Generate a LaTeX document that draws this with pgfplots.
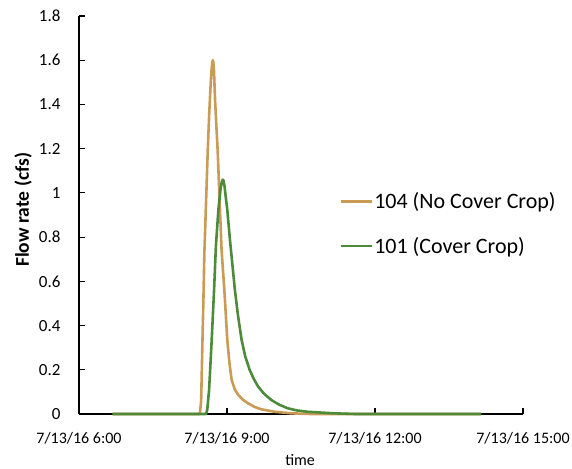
\documentclass[border=0pt]{standalone}
\usepackage{pgfplots}
\pgfplotsset{compat=1.18}
\usepackage{fontspec}
\setmainfont{Carlito}
\definecolor{nocc}{RGB}{201,155,84}
\definecolor{cc}{RGB}{77,139,58}
\begin{document}
\begin{tikzpicture}[x=1pt,y=1pt]
\useasboundingbox (0,0) rectangle (572,468);
\begin{axis}[
  at={(79pt,54pt)}, anchor=origin,
  scale only axis, width=444pt, height=398pt,
  xmin=6, xmax=15, ymin=0, ymax=1.8,
  axis x line=bottom, axis y line=left,
  axis line style={-, line width=1.3pt, black},
  tick align=inside,
  major tick length=6pt,
  tick style={line width=1.2pt, black},
  xtick={6,9,12,15},
  xticklabels={7/13/16 6:00, 7/13/16 9:00, 7/13/16 12:00, 7/13/16 15:00},
  ytick={0,0.2,...,1.8},
  /pgf/number format/fixed,
  /pgf/number format/assume math mode=true,
  tick label style={font=\fontsize{16}{18}\selectfont, black},
  yticklabel style={xshift=-15pt, font=\fontsize{17}{19}\selectfont},
  xticklabel style={yshift=-15pt},
  xlabel={time},
  xlabel style={at={(axis description cs:0.498,-0.1156)}, anchor=center, font=\fontsize{16}{18}\selectfont},
  ylabel={Flow rate (cfs)},
  ylabel style={at={(axis description cs:-0.126,0.513)}, anchor=center, font=\fontsize{19.5}{22}\selectfont\bfseries},
  clip=false,
  legend cell align=left,
  legend style={at={(rel axis cs:0.5856,0.478)}, anchor=west, draw=none, fill=none,
    font=\fontsize{22}{26}\selectfont, inner sep=0pt, row sep=24pt,
    nodes={inner sep=1.5pt}},
  legend image code/.code={\draw[#1] (0pt,0pt) -- (31pt,0pt);},
]
\addplot[nocc, line width=2.6pt, line join=round] coordinates {
(6.68,0) (8.45,0) (8.476,0.06) (8.503,0.335) (8.525,0.55) (8.543,0.742) (8.577,0.968)
(8.61,1.195) (8.640,1.36) (8.668,1.49) (8.69,1.565) (8.702,1.59) (8.712,1.6) (8.722,1.592)
(8.735,1.56) (8.758,1.42) (8.785,1.30) (8.81,1.195) (8.85,0.968) (8.89,0.742) (8.946,0.561)
(9.006,0.335) (9.05,0.23) (9.094,0.154) (9.16,0.11) (9.23,0.086) (9.33,0.063) (9.43,0.048)
(9.56,0.032) (9.70,0.021) (9.97,0.01) (10.3,0.003) (10.7,0) (14.15,0)
};
\addlegendentry{104 (No Cover Crop)}
\addplot[cc, line width=2.6pt, line join=round] coordinates {
(6.68,0) (8.577,0) (8.60,0.02) (8.637,0.109) (8.69,0.335) (8.738,0.561) (8.775,0.76)
(8.825,0.923) (8.87,1.02) (8.895,1.05) (8.913,1.06) (8.93,1.055) (8.95,1.03) (8.975,0.98)
(9.006,0.923) (9.06,0.787) (9.08,0.742) (9.16,0.561) (9.22,0.45) (9.296,0.335) (9.37,0.26)
(9.46,0.199) (9.54,0.16) (9.63,0.124) (9.75,0.092) (9.90,0.063) (10.05,0.043) (10.23,0.026)
(10.42,0.016) (10.64,0.01) (11.17,0.003) (11.6,0) (14.15,0)
};
\addlegendentry{101 (Cover Crop)}
\end{axis}
\end{tikzpicture}
\end{document}
